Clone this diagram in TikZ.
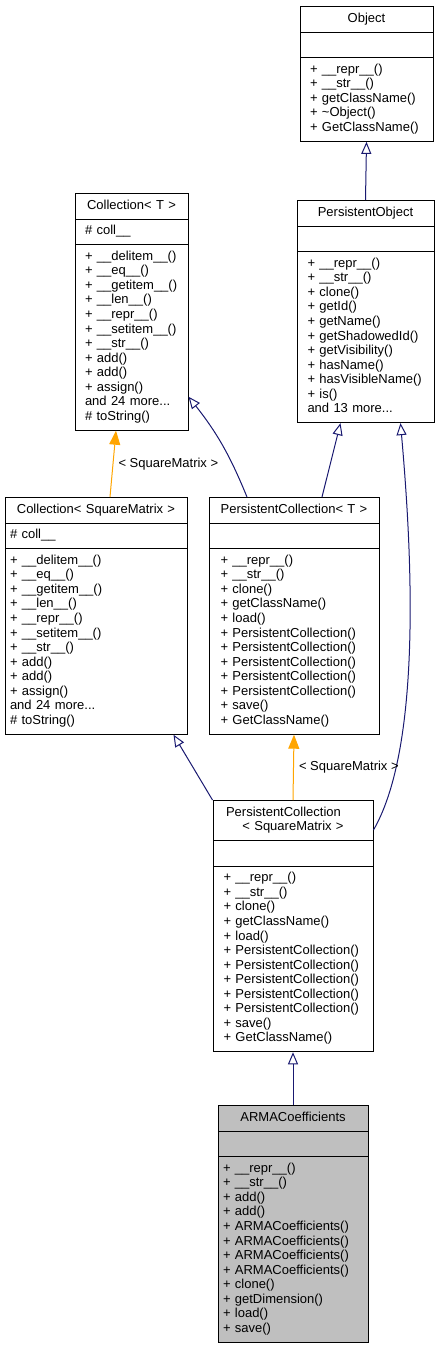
\documentclass[tikz,border=0pt]{standalone}
\usepackage{fontspec}
\setmainfont{Liberation Sans}
\usepackage{xcolor}
\usetikzlibrary{shapes.multipart,arrows.meta,positioning}

\definecolor{edgeblue}{RGB}{25,25,112}
\definecolor{tmplorange}{RGB}{255,165,0}
\definecolor{focusgray}{RGB}{191,191,191}

\begin{document}
\begin{tikzpicture}[x=1pt, y=1pt, font=\fontsize{13}{14.55}\selectfont,
  cls/.style={draw=black, line width=1pt, fill=white, rectangle split, rectangle split parts=3,
    align=left, inner xsep=5pt, inner ysep=5pt, anchor=north},
  inherit/.style={draw=edgeblue, line width=1pt, -{Triangle[open, length=12pt, width=10pt]}},
  tmpl/.style={draw=tmplorange, line width=1pt, -{Triangle[length=14pt, width=11pt]}},
  lbl/.style={right, inner sep=5pt}]
\useasboundingbox (0,0) rectangle (441,-1349);

% class boxes
\node[cls, inner xsep=10pt, text width=113pt] (obj) at (366.5,-6) {\makebox[\hsize]{\strut Object}
  \nodepart{second}\strut
  \nodepart{third}\strut+ \_\_repr\_\_()\\+ \_\_str\_\_()\\+ getClassName()\\+ \textasciitilde Object()\\+ GetClassName()\strut};
\node[cls, inner xsep=10.5pt, text width=116pt] (po) at (365.5,-200) {\makebox[\hsize]{\strut PersistentObject}
  \nodepart{second}\strut
  \nodepart{third}\strut+ \_\_repr\_\_()\\+ \_\_str\_\_()\\+ clone()\\+ getId()\\+ getName()\\+ getShadowedId()\\+ getVisibility()\\+ hasName()\\+ hasVisibleName()\\+ is()\\and 13 more...\strut};
\node[cls, inner xsep=10pt, text width=93pt] (ct) at (131.5,-193) {\makebox[\hsize]{\strut Collection< T >}
  \nodepart{second}\strut\# coll\_\_\strut
  \nodepart{third}\strut+ \_\_delitem\_\_()\\+ \_\_eq\_\_()\\+ \_\_getitem\_\_()\\+ \_\_len\_\_()\\+ \_\_repr\_\_()\\+ \_\_setitem\_\_()\\+ \_\_str\_\_()\\+ add()\\+ add()\\+ assign()\\and 24 more...\\\# toString()\strut};
\node[cls, text width=172pt] (csm) at (96,-497) {\makebox[\hsize]{\strut Collection< SquareMatrix >}
  \nodepart{second}\strut\# coll\_\_\strut
  \nodepart{third}\strut+ \_\_delitem\_\_()\\+ \_\_eq\_\_()\\+ \_\_getitem\_\_()\\+ \_\_len\_\_()\\+ \_\_repr\_\_()\\+ \_\_setitem\_\_()\\+ \_\_str\_\_()\\+ add()\\+ add()\\+ assign()\\and 24 more...\\\# toString()\strut};
\node[cls, inner xsep=11.5pt, text width=147pt] (pct) at (294,-497) {\makebox[\hsize]{\strut PersistentCollection< T >}
  \nodepart{second}\strut
  \nodepart{third}\strut+ \_\_repr\_\_()\\+ \_\_str\_\_()\\+ clone()\\+ getClassName()\\+ load()\\+ PersistentCollection()\\+ PersistentCollection()\\+ PersistentCollection()\\+ PersistentCollection()\\+ PersistentCollection()\\+ save()\\+ GetClassName()\strut};
\node[cls, inner xsep=10.5pt, text width=139pt] (pcsm) at (293,-800) {\makebox[\hsize]{\strut PersistentCollection\hspace{19pt}}\\\makebox[\hsize]{\strut< SquareMatrix >}
  \nodepart{second}\strut
  \nodepart{third}\strut+ \_\_repr\_\_()\\+ \_\_str\_\_()\\+ clone()\\+ getClassName()\\+ load()\\+ PersistentCollection()\\+ PersistentCollection()\\+ PersistentCollection()\\+ PersistentCollection()\\+ PersistentCollection()\\+ save()\\+ GetClassName()\strut};
\node[cls, fill=focusgray, text width=140pt] (arma) at (293,-1105) {\makebox[\hsize]{\strut ARMACoefficients}
  \nodepart{second}\strut
  \nodepart{third}\strut+ \_\_repr\_\_()\\+ \_\_str\_\_()\\+ add()\\+ add()\\+ ARMACoefficients()\\+ ARMACoefficients()\\+ ARMACoefficients()\\+ ARMACoefficients()\\+ clone()\\+ getDimension()\\+ load()\\+ save()\strut};

% inheritance
\draw[inherit] (po.north) -- (obj.south);
\draw[inherit] ([xshift=-47pt]pct.north) to[bend right=8] ([yshift=34pt]ct.south east);
\draw[inherit] ([xshift=28pt]pct.north) -- ([xshift=-25pt]po.south);
\draw[inherit] ([yshift=-30pt]pcsm.north east) to[out=60, in=-85, looseness=0.65] ([xshift=35pt]po.south);
\draw[inherit] (pcsm.north west) -- ([xshift=-14pt]csm.south east);
\draw[inherit] (arma.north) -- (pcsm.south);

% template instances
\draw[tmpl] ([xshift=14pt]csm.north) -- node[lbl] {< SquareMatrix >} ([xshift=-15.5pt]ct.south);
\draw[tmpl] (pcsm.north) -- node[lbl] {< SquareMatrix >} (pct.south);
\end{tikzpicture}
\end{document}
